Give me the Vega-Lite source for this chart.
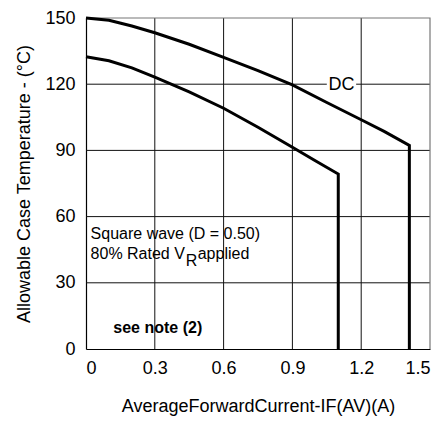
{
  "$schema": "https://vega.github.io/schema/vega-lite/v6.json",
  "width": 344,
  "height": 331,
  "autosize": {"type": "none"},
  "padding": {"left": 86, "top": 18, "right": 15, "bottom": 75},
  "background": "white",
  "config": {
    "font": "Liberation Sans",
    "view": {"stroke": null},
    "axis": {
      "labelFont": "Liberation Sans",
      "titleFont": "Liberation Sans",
      "labelFontSize": 18,
      "titleFontSize": 18,
      "titleFontWeight": "normal",
      "labelColor": "#000",
      "titleColor": "#000",
      "domainColor": "#000",
      "domainWidth": 1.2,
      "grid": false,
      "ticks": false
    }
  },
  "datasets": {
    "gridlines": [
      {"g": "v03", "current": 0.3, "temp": 0}, {"g": "v03", "current": 0.3, "temp": 150},
      {"g": "v06", "current": 0.6, "temp": 0}, {"g": "v06", "current": 0.6, "temp": 150},
      {"g": "v09", "current": 0.9, "temp": 0}, {"g": "v09", "current": 0.9, "temp": 150},
      {"g": "v12", "current": 1.2, "temp": 0}, {"g": "v12", "current": 1.2, "temp": 150},
      {"g": "h30", "current": 0, "temp": 30}, {"g": "h30", "current": 1.5, "temp": 30},
      {"g": "h60", "current": 0, "temp": 60}, {"g": "h60", "current": 1.5, "temp": 60},
      {"g": "h90", "current": 0, "temp": 90}, {"g": "h90", "current": 1.5, "temp": 90},
      {"g": "h120", "current": 0, "temp": 120}, {"g": "h120", "current": 1.5, "temp": 120}
    ],
    "frame": [
      {"g": "f", "i": 0, "current": 0, "temp": 150},
      {"g": "f", "i": 1, "current": 1.5, "temp": 150},
      {"g": "f", "i": 2, "current": 1.5, "temp": 0}
    ],
    "curves": [
      {"series": "DC", "i": 0, "current": 0, "temp": 150},
      {"series": "DC", "i": 1, "current": 0.1, "temp": 149},
      {"series": "DC", "i": 2, "current": 0.2, "temp": 146.4},
      {"series": "DC", "i": 3, "current": 0.3, "temp": 143.3},
      {"series": "DC", "i": 4, "current": 0.45, "temp": 138.1},
      {"series": "DC", "i": 5, "current": 0.6, "temp": 132.2},
      {"series": "DC", "i": 6, "current": 0.75, "temp": 126.2},
      {"series": "DC", "i": 7, "current": 0.9, "temp": 119.7},
      {"series": "DC", "i": 8, "current": 1.05, "temp": 111.7},
      {"series": "DC", "i": 9, "current": 1.2, "temp": 103.9},
      {"series": "DC", "i": 10, "current": 1.3, "temp": 98.6},
      {"series": "DC", "i": 11, "current": 1.41, "temp": 92.3},
      {"series": "DC", "i": 12, "current": 1.41, "temp": 0},
      {"series": "SQ", "i": 0, "current": 0, "temp": 132.4},
      {"series": "SQ", "i": 1, "current": 0.1, "temp": 130.6},
      {"series": "SQ", "i": 2, "current": 0.2, "temp": 127.4},
      {"series": "SQ", "i": 3, "current": 0.3, "temp": 123.2},
      {"series": "SQ", "i": 4, "current": 0.45, "temp": 116.5},
      {"series": "SQ", "i": 5, "current": 0.6, "temp": 109.1},
      {"series": "SQ", "i": 6, "current": 0.75, "temp": 100.5},
      {"series": "SQ", "i": 7, "current": 0.9, "temp": 91.4},
      {"series": "SQ", "i": 8, "current": 1.0, "temp": 85.3},
      {"series": "SQ", "i": 9, "current": 1.1, "temp": 79.3},
      {"series": "SQ", "i": 10, "current": 1.1, "temp": 0}
    ],
    "dcbox": [{"x1": 1.05, "x2": 1.178, "y1": 116, "y2": 124}],
    "dclabel": [{"current": 1.114, "temp": 119.6, "label": "DC"}],
    "notes": [
      {"current": 0.02, "temp": 49.9, "label": "Square wave (D = 0.50)"},
      {"current": 0.02, "temp": 40.8, "label": "80% Rated V"},
      {"current": 0.487, "temp": 40.8, "label": "applied"}
    ],
    "sub": [{"current": 0.435, "temp": 37.6, "label": "R"}],
    "bold": [{"current": 0.119, "temp": 7.1, "label": "see note (2)"}]
  },
  "layer": [
    {
      "data": {"name": "gridlines"},
      "mark": {"type": "line", "color": "#111", "strokeWidth": 1},
      "encoding": {
        "x": {
          "field": "current", "type": "quantitative",
          "scale": {"domain": [0, 1.5], "nice": false, "zero": false},
          "axis": {
            "values": [0, 0.3, 0.6, 0.9, 1.2, 1.5],
            "format": "~g",
            "labelPadding": 10,
            "title": "AverageForwardCurrent-IF(AV)(A)",
            "titlePadding": 20
          }
        },
        "y": {
          "field": "temp", "type": "quantitative",
          "scale": {"domain": [0, 150], "nice": false},
          "axis": {
            "values": [0, 30, 60, 90, 120, 150],
            "labelPadding": 11,
            "title": "Allowable Case Temperature - (°C)",
            "titlePadding": 11
          }
        },
        "detail": {"field": "g"},
        "order": {"field": "temp", "type": "quantitative"}
      }
    },
    {
      "data": {"name": "frame"},
      "mark": {"type": "line", "color": "#777", "strokeWidth": 1.2},
      "encoding": {
        "x": {"field": "current", "type": "quantitative"},
        "y": {"field": "temp", "type": "quantitative"},
        "detail": {"field": "g"},
        "order": {"field": "i", "type": "quantitative"}
      }
    },
    {
      "data": {"name": "curves"},
      "mark": {"type": "line", "color": "#000", "strokeWidth": 3, "strokeJoin": "miter"},
      "encoding": {
        "x": {"field": "current", "type": "quantitative"},
        "y": {"field": "temp", "type": "quantitative"},
        "detail": {"field": "series"},
        "order": {"field": "i", "type": "quantitative"}
      }
    },
    {
      "data": {"name": "dcbox"},
      "mark": {"type": "rect", "fill": "white"},
      "encoding": {
        "x": {"field": "x1", "type": "quantitative"},
        "x2": {"field": "x2"},
        "y": {"field": "y1", "type": "quantitative"},
        "y2": {"field": "y2"}
      }
    },
    {
      "data": {"name": "dclabel"},
      "mark": {"type": "text", "font": "Liberation Sans", "fontSize": 18, "color": "#000", "align": "center", "baseline": "middle"},
      "encoding": {
        "x": {"field": "current", "type": "quantitative"},
        "y": {"field": "temp", "type": "quantitative"},
        "text": {"field": "label"}
      }
    },
    {
      "data": {"name": "notes"},
      "mark": {"type": "text", "font": "Liberation Sans", "fontSize": 16, "color": "#000", "align": "left", "baseline": "alphabetic"},
      "encoding": {
        "x": {"field": "current", "type": "quantitative"},
        "y": {"field": "temp", "type": "quantitative"},
        "text": {"field": "label"}
      }
    },
    {
      "data": {"name": "sub"},
      "mark": {"type": "text", "font": "Liberation Sans", "fontSize": 16, "color": "#000", "align": "left", "baseline": "alphabetic"},
      "encoding": {
        "x": {"field": "current", "type": "quantitative"},
        "y": {"field": "temp", "type": "quantitative"},
        "text": {"field": "label"}
      }
    },
    {
      "data": {"name": "bold"},
      "mark": {"type": "text", "font": "Liberation Sans", "fontSize": 16, "fontWeight": "bold", "color": "#000", "align": "left", "baseline": "alphabetic"},
      "encoding": {
        "x": {"field": "current", "type": "quantitative"},
        "y": {"field": "temp", "type": "quantitative"},
        "text": {"field": "label"}
      }
    }
  ]
}
